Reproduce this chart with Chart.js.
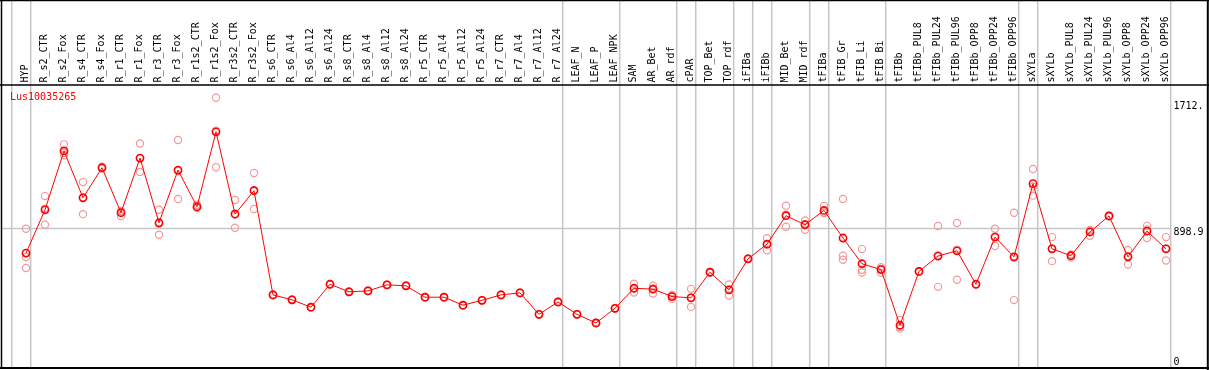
<!DOCTYPE html>
<html><head><meta charset="utf-8">
<script src="https://cdn.jsdelivr.net/npm/chart.js@4/dist/chart.umd.min.js"></script>
<style>html,body{margin:0;padding:0;background:#fff}canvas{display:block}</style>
</head><body>
<canvas id="c" width="1209" height="370"></canvas>
<script>
const title = 'Lus10035265';
const categories = ['HYP','R_s2_CTR','R_s2_Fox','R_s4_CTR','R_s4_Fox','R_r1_CTR','R_r1_Fox','R_r3_CTR','R_r3_Fox','R_r1s2_CTR','R_r1s2_Fox','R_r3s2_CTR','R_r3s2_Fox','R_s6_CTR','R_s6_Al4','R_s6_Al12','R_s6_Al24','R_s8_CTR','R_s8_Al4','R_s8_Al12','R_s8_Al24','R_r5_CTR','R_r5_Al4','R_r5_Al12','R_r5_Al24','R_r7_CTR','R_r7_Al4','R_r7_Al12','R_r7_Al24','LEAF_N','LEAF_P','LEAF_NPK','SAM','AR_Bet','AR_rdf','cPAR','TOP_Bet','TOP_rdf','iFIBa','iFIBb','MID_Bet','MID_rdf','tFIBa','tFIB_Gr','tFIB_Li','tFIB_Bi','tFIBb','tFIBb_PUL8','tFIBb_PUL24','tFIBb_PUL96','tFIBb_OPP8','tFIBb_OPP24','tFIBb_OPP96','sXYLa','sXYLb','sXYLb_PUL8','sXYLb_PUL24','sXYLb_PUL96','sXYLb_OPP8','sXYLb_OPP24','sXYLb_OPP96'];
const means = [739,1020,1402,1098,1293,1001,1356,936,1278,1040,1526,993,1144,468,436,388,537,488,494,533,527,453,453,401,433,468,481,342,422,342,286,381,511,505,457,449,615,501,702,797,982,923,1016,837,670,632,271,620,720,754,537,843,715,1190,767,722,876,980,715,882,767];
const rep1 = [897,1109,1445,1200,1300,1010,1450,1020,1473,1053,1747,1084,1259,468,436,388,537,488,494,533,527,453,453,401,433,468,481,342,422,342,286,381,540,527,468,507,615,535,702,836,1047,951,1046,1090,765,648,305,620,915,934,537,897,1001,1285,843,730,890,980,760,916,843];
const rep2 = [714,923,1374,992,1290,980,1266,858,1090,1031,1296,904,1025,466,434,390,535,490,492,531,529,451,455,399,435,466,483,340,424,344,284,383,483,477,442,390,612,464,700,758,910,891,999,722,631,611,249,618,520,566,535,785,434,1112,687,710,852,978,665,837,691];
const rep3 = [642,1028,1388,1100,1290,1012,1354,930,1272,1036,1534,990,1148,470,438,386,539,486,496,535,525,455,451,403,431,470,479,344,420,340,288,379,511,510,460,449,618,503,705,797,988,927,1003,696,613,637,260,622,724,762,539,846,710,1172,770,726,886,982,720,893,767];
const groupEnds = [-1,0,28,31,34,35,37,38,39,41,42,45,52,53,60];
const yTicks = [0, 898.9, 1712];
const yTickLabels = ['0', '898.9', '1712.'];

const FONT = '"DejaVu Sans Mono", "Liberation Mono", monospace';

const pts = arr => arr.map((v, i) => ({x: i, y: v}));
const repStyle = {showLine: false, pointStyle: 'circle', pointRadius: 3.6, pointBorderWidth: 1.2, borderColor: '#f09a9a', backgroundColor: 'transparent', pointBackgroundColor: 'transparent', order: 2};

const decor = {
  id: 'decor',
  beforeDatasetsDraw(chart) {
    const {ctx, chartArea: a, scales: {x, y}} = chart;
    ctx.save();
    ctx.strokeStyle = '#c6c6c6';
    ctx.lineWidth = 1.5;
    const lastSep = x.getPixelForValue(groupEnds[groupEnds.length - 1]) + 4.7;
    const gy = y.getPixelForValue(yTicks[1]);
    ctx.beginPath();
    ctx.moveTo(a.left, gy); ctx.lineTo(lastSep, gy);
    ctx.stroke();
    groupEnds.forEach(g => {
      const px = x.getPixelForValue(g) + 4.7;
      ctx.beginPath(); ctx.moveTo(px, 0); ctx.lineTo(px, a.bottom); ctx.stroke();
    });
    ctx.restore();
  },
  afterDraw(chart) {
    const {ctx, chartArea: a, scales: {x, y}} = chart;
    ctx.save();
    ctx.strokeStyle = '#000';
    ctx.lineWidth = 1.5;
    ctx.beginPath();
    ctx.moveTo(1.5, 0); ctx.lineTo(1.5, a.bottom + 1);
    ctx.moveTo(0, 0.5); ctx.lineTo(1209, 0.5);
    ctx.moveTo(0, a.top); ctx.lineTo(1209, a.top);
    ctx.stroke();
    ctx.lineWidth = 2;
    ctx.beginPath();
    ctx.moveTo(a.right + 0.8, 0); ctx.lineTo(a.right + 0.8, 370);
    ctx.moveTo(0, a.bottom + 1); ctx.lineTo(1209, a.bottom + 1);
    ctx.stroke();
    ctx.font = '10px ' + FONT;
    ctx.fillStyle = '#ff0000';
    ctx.textBaseline = 'middle';
    ctx.textAlign = 'left';
    ctx.fillText(title, a.left + 8, a.top + 12);
    ctx.fillStyle = '#000';
    const lx = x.getPixelForValue(groupEnds[groupEnds.length - 1]) + 7.5;
    yTicks.forEach((t, i) => {
      const py = Math.min(y.getPixelForValue(t) + 3.5, a.bottom - 5);
      ctx.fillText(yTickLabels[i], lx, py);
    });
    ctx.restore();
  }
};

new Chart(document.getElementById('c'), {
  type: 'line',
  data: {
    datasets: [
      {label: 'mean', data: pts(means), borderColor: '#ff0000', borderWidth: 1, pointStyle: 'circle', pointRadius: 3.6, pointBorderWidth: 1.6, pointBorderColor: '#ff0000', pointBackgroundColor: 'transparent', backgroundColor: 'transparent', tension: 0, order: 1},
      Object.assign({label: 'rep1', data: pts(rep1)}, repStyle),
      Object.assign({label: 'rep2', data: pts(rep2)}, repStyle),
      Object.assign({label: 'rep3', data: pts(rep3)}, repStyle)
    ]
  },
  options: {
    responsive: false,
    animation: false,
    devicePixelRatio: 1,
    events: [],
    layout: {autoPadding: false, padding: {left: 2, right: 2, top: 0, bottom: 3}},
    plugins: {legend: {display: false}, tooltip: {enabled: false}},
    scales: {
      x: {
        type: 'linear',
        position: 'top',
        min: -1.2632,
        max: 62.158,
        grid: {display: false, drawTicks: false},
        border: {display: false},
        afterBuildTicks: s => { s.ticks = categories.map((_, i) => ({value: i})); },
        afterFit: s => { s.height = 85; s.paddingLeft = 0; s.paddingRight = 0; },
        ticks: {
          autoSkip: false,
          minRotation: 90,
          maxRotation: 90,
          padding: 2.5,
          labelOffset: 11.5,
          color: '#000',
          font: {family: FONT, size: 10, lineHeight: 1.2},
          callback: v => categories[v]
        }
      },
      y: {
        type: 'linear',
        display: false,
        min: 0,
        max: 1830
      }
    }
  },
  plugins: [decor]
});
</script>
</body></html>
